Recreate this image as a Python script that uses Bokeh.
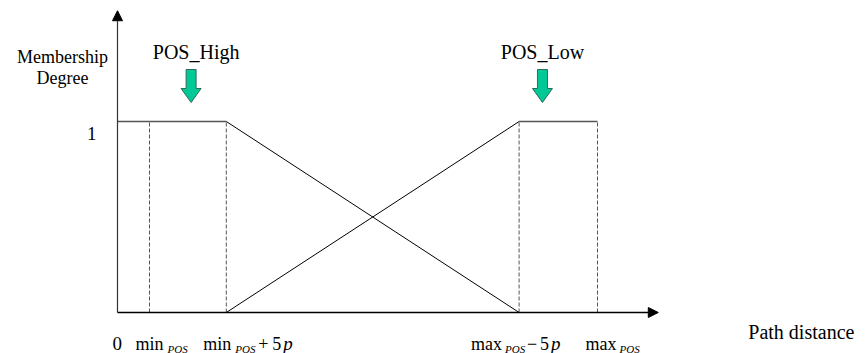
from bokeh.plotting import figure
from bokeh.models import Range1d, Arrow, NormalHead
from bokeh.core.properties import value
from bokeh.embed import file_html
from bokeh.resources import INLINE

# ---- data ----
breakpoints = [1.0, 3.4, 12.55, 15.0]        # min_POS, min_POS+5p, max_POS-5p, max_POS
high_x = [0.0, 3.4, 12.55]
high_y = [1.0, 1.0, 0.0]
low_x = [3.4, 12.55, 15.0]
low_y = [0.0, 1.0, 1.0]
set_names = ["POS_High", "POS_Low"]
set_centers = [2.3, 13.28]
x_axis_end = 16.9
y_axis_end = 1.58

SERIF = value("'Liberation Serif', 'Times New Roman', 'DejaVu Serif', serif")
PX_X = 32.0    # px per x unit
PX_Y = 191.0   # px per y unit
W, H = 866, 353
OX, OY = 117, 312

p = figure(width=W, height=H, output_backend="svg", toolbar_location=None,
           x_range=Range1d(-OX / PX_X, (W - OX) / PX_X),
           y_range=Range1d(-(H - OY) / PX_Y, OY / PX_Y),
           min_border=0, min_border_left=0, min_border_right=0,
           min_border_top=0, min_border_bottom=0)
p.axis.visible = False
p.grid.visible = False
p.outline_line_color = None
p.background_fill_color = "white"
p.border_fill_color = "white"

# axes with arrow heads
p.add_layout(Arrow(end=NormalHead(size=10, fill_color="black", line_color="black", line_width=1),
                   x_start=0, y_start=0, x_end=0, y_end=y_axis_end,
                   line_color="#333333", line_width=1.2))
p.add_layout(Arrow(end=NormalHead(size=10, fill_color="black", line_color="black", line_width=1),
                   x_start=0, y_start=0, x_end=x_axis_end, y_end=0,
                   line_color="black", line_width=1.5))

# dashed verticals
p.segment(x0=breakpoints, y0=[0] * 4, x1=breakpoints, y1=[1] * 4,
          line_color="#555555", line_width=1, line_dash="4 2")

# membership functions
p.line(high_x[:2], high_y[:2], line_color="#555555", line_width=1.5)
p.line(high_x[1:], high_y[1:], line_color="black", line_width=1)
p.line(low_x[:2], low_y[:2], line_color="black", line_width=1)
p.line(low_x[1:], low_y[1:], line_color="#555555", line_width=1.5)

# green block arrows
y_top = (OY - 69) / PX_Y
y_neck = (OY - 88) / PX_Y
y_tip = (OY - 102) / PX_Y
sw = 5 / PX_X
hw = 10 / PX_X
xs, ys = [], []
for c in set_centers:
    xs.append([c - sw, c + sw, c + sw, c + hw, c, c - hw, c - sw])
    ys.append([y_top, y_top, y_neck, y_neck, y_tip, y_neck, y_neck])
p.patches(xs, ys, fill_color="#00C896", line_color="#2E6B58", line_width=1)

# set names
p.text(x=set_centers, y=[y_top] * 2, text=set_names, x_offset=[5, 0], y_offset=-18,
       text_font=SERIF, text_font_size="20px", text_align="center",
       text_baseline="alphabetic", text_color="black")

# y axis labels
p.text(x=[0, 0], y=[y_axis_end, y_axis_end], text=["Membership", "Degree"],
       x_offset=-55, y_offset=[46, 67],
       text_font=SERIF, text_font_size="18px", text_align="center",
       text_baseline="alphabetic", text_color="black")
p.text(x=[0], y=[1], text=["1"], x_offset=-21, y_offset=12,
       text_font=SERIF, text_font_size="19px", text_align="right",
       text_baseline="alphabetic", text_color="black")

# x axis label
p.text(x=[x_axis_end], y=[0], text=["Path distance"], x_offset=90, y_offset=19,
       text_font=SERIF, text_font_size="20px", text_align="left",
       text_baseline="alphabetic", text_color="black")

# tick labels built from pieces: (anchor, dx px, text, size, style, dy px)
b = breakpoints
pieces = [
    (0.0, -5, "0", "19px", "normal", 31),
    (b[0], -14, "min", "18px", "normal", 31),
    (b[0], 18, "POS", "11px", "italic", 36),
    (b[1], -23, "min", "18px", "normal", 31),
    (b[1], 9, "POS", "11px", "italic", 36),
    (b[1], 32, "+", "18px", "normal", 31),
    (b[1], 46, "5", "18px", "normal", 31),
    (b[1], 57, "p", "19px", "italic", 31),
    (b[2], -48, "max", "18px", "normal", 31),
    (b[2], -14, "POS", "11px", "italic", 36),
    (b[2], 8, "\u2212", "18px", "normal", 31),
    (b[2], 21, "5", "18px", "normal", 31),
    (b[2], 32, "p", "19px", "italic", 31),
    (b[3], -12, "max", "18px", "normal", 31),
    (b[3], 22, "POS", "11px", "italic", 36),
]
for ax, dx, t, sz, st, dy in pieces:
    p.text(x=[ax], y=[0], text=[t], x_offset=dx, y_offset=dy,
           text_font=SERIF, text_font_size=sz, text_font_style=st,
           text_align="left", text_baseline="alphabetic", text_color="black")

open("out.html", "w").write(file_html(p, INLINE))
